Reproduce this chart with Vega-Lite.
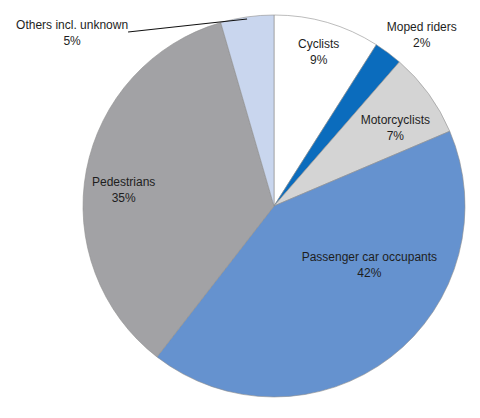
{
  "$schema": "https://vega.github.io/schema/vega-lite/v6.json",
  "width": 412,
  "height": 412,
  "autosize": "none",
  "padding": {"left": 68, "right": 0, "top": 0, "bottom": 6},
  "background": "white",
  "data": {
    "values": [
      {"group": "Cyclists", "share": 9.0, "rank": 1},
      {"group": "Moped riders", "share": 2.4, "rank": 2},
      {"group": "Motorcyclists", "share": 7.2, "rank": 3},
      {"group": "Passenger car occupants", "share": 41.9, "rank": 4},
      {"group": "Pedestrians", "share": 35.0, "rank": 5},
      {"group": "Others incl. unknown", "share": 4.5, "rank": 6}
    ]
  },
  "transform": [
    {"calculate": "datum.group + '\\n' + round(datum.share) + '%'", "as": "label"}
  ],
  "layer": [
    {
      "mark": {"type": "arc", "outerRadius": 191, "stroke": "#8f8f8f", "strokeWidth": 0.6},
      "encoding": {
        "theta": {"field": "share", "type": "quantitative", "stack": true},
        "order": {"field": "rank"},
        "color": {
          "field": "group", "type": "nominal", "legend": null,
          "scale": {
            "domain": ["Cyclists", "Moped riders", "Motorcyclists", "Passenger car occupants", "Pedestrians", "Others incl. unknown"],
            "range": ["#ffffff", "#0b6cbd", "#d4d4d4", "#6592cf", "#a2a2a5", "#c9d6ee"]
          }
        }
      }
    },
    {
      "mark": {
        "type": "text",
        "font": "Liberation Sans",
        "fontSize": 12,
        "fill": "#1e1e1e",
        "lineBreak": "\n",
        "lineHeight": 16,
        "align": "center",
        "baseline": "middle",
        "radius": {"expr": "datum.group === 'Cyclists' ? 160 : datum.group === 'Moped riders' ? 227 : datum.group === 'Motorcyclists' ? 145 : datum.group === 'Passenger car occupants' ? 112 : datum.group === 'Pedestrians' ? 151 : 191"},
        "dx": {"expr": "datum.group === 'Cyclists' ? 0 : datum.group === 'Moped riders' ? 12 : datum.group === 'Motorcyclists' ? 4 : datum.group === 'Passenger car occupants' ? 27 : datum.group === 'Pedestrians' ? -2 : -175"},
        "dy": {"expr": "datum.group === 'Cyclists' ? -8 : datum.group === 'Moped riders' ? 3 : datum.group === 'Motorcyclists' ? -1 : datum.group === 'Passenger car occupants' ? -38 : datum.group === 'Pedestrians' ? 4 : 8"}
      },
      "encoding": {
        "theta": {"field": "share", "type": "quantitative", "stack": true},
        "order": {"field": "rank"},
        "detail": {"field": "group", "type": "nominal"},
        "text": {"field": "label", "type": "nominal"}
      }
    },
    {
      "transform": [{"filter": "datum.group === 'Others incl. unknown'"}],
      "mark": {"type": "rule", "stroke": "#111111", "strokeWidth": 1.2},
      "encoding": {
        "x": {"datum": -0.764, "type": "quantitative", "scale": {"domain": [-1.0785, 1.0785], "nice": false, "zero": false}, "axis": null},
        "y": {"datum": 0.911, "type": "quantitative", "scale": {"domain": [-1.0785, 1.0785], "nice": false, "zero": false}, "axis": null},
        "x2": {"datum": -0.141},
        "y2": {"datum": 0.979}
      }
    }
  ],
  "config": {
    "view": {"stroke": null}
  }
}
